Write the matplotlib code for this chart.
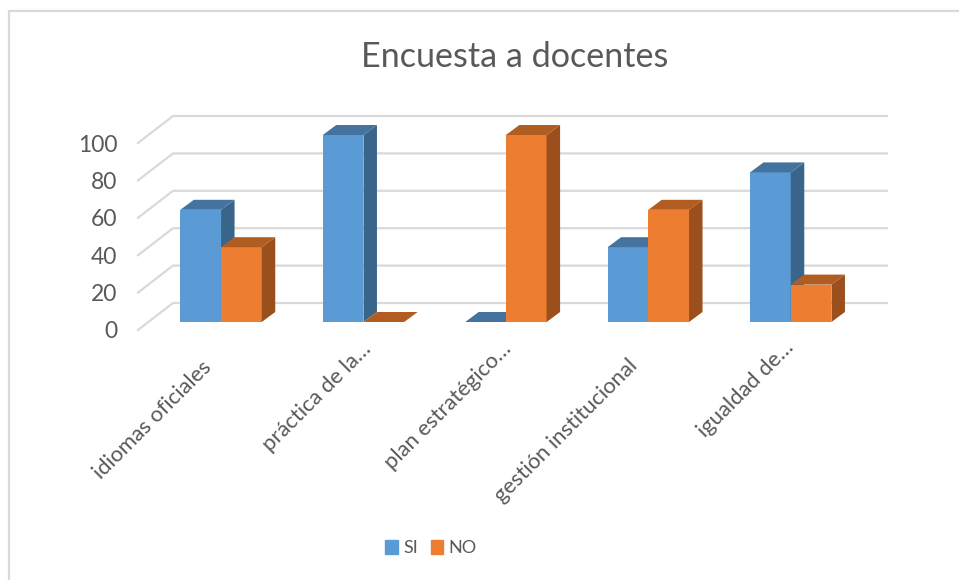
import matplotlib.pyplot as plt
from matplotlib.patches import Patch
from matplotlib.lines import Line2D
from matplotlib.transforms import ScaledTranslation

plt.rcParams['font.family'] = ['Lato', 'DejaVu Sans']

# Data
categories = ['idiomas oficiales', 'práctica de la…', 'plan estratégico…',
              'gestión institucional', 'igualdad de…']
si_values = [60, 100, 0, 40, 80]
no_values = [40, 0, 100, 60, 20]
y_ticks = [0, 20, 40, 60, 80, 100]

text_color = '#595959'
grid_color = '#D9D9D9'

W, H = 959, 580
fig = plt.figure(figsize=(W / 100, H / 100), dpi=100)

# Front plane of the 3D box, in pixels
left, right, top, bottom = 138, 852, 143, 330
ax = fig.add_axes([left / W, 1 - bottom / H, (right - left) / W, (bottom - top) / H])
ax.set_xlim(-0.583, 4.43)
ax.set_ylim(0, 100)
ax.patch.set_visible(False)
for s in ax.spines.values():
    s.set_visible(False)

# Pixel offsets converted to data units
px_x = (4.43 + 0.583) / (right - left)
px_y = 100 / (bottom - top)
wall_dx, wall_dy = 35 * px_x, 27 * px_y
bar_dx, bar_dy = 13.5 * px_x, 10 * px_y
lift = 8 * px_y
bar_w = 40.7 * px_x
x0 = ax.get_xlim()[0]
x1 = ax.get_xlim()[1]


# Back wall gridlines and the left wall diagonals
for t in y_ticks:
    ax.plot([x0, x0 + wall_dx, x1 + wall_dx], [t, t + wall_dy, t + wall_dy],
            color=grid_color, lw=1.6, clip_on=False, zorder=1)


def bar3d(x, value, front, side, roof):
    y0 = lift
    y1 = value + lift
    ax.fill([x, x + bar_w, x + bar_w, x], [y0, y0, y1, y1], color=front, lw=0, clip_on=False, zorder=2)
    ax.fill([x + bar_w, x + bar_w + bar_dx, x + bar_w + bar_dx, x + bar_w],
            [y0, y0 + bar_dy, y1 + bar_dy, y1], color=side, lw=0, clip_on=False, zorder=2)
    ax.fill([x, x + bar_dx, x + bar_w + bar_dx, x + bar_w],
            [y1, y1 + bar_dy, y1 + bar_dy, y1], color=roof, lw=0, clip_on=False, zorder=2)


for i in range(len(categories)):
    bar3d(i - bar_w, si_values[i], '#5B9BD5', '#3A658B', '#44739F')
    bar3d(i, no_values[i], '#ED7D31', '#9A4F1C', '#B15C20')

# Axis labels
ax.set_yticks(y_ticks)
ax.set_yticklabels(y_ticks, fontsize=16.5, color=text_color)
ax.set_xticks(range(len(categories)))
ax.set_xticklabels(categories, rotation=45, ha='right', rotation_mode='anchor',
                   fontsize=15.8, color=text_color)
ax.tick_params(axis='both', length=0)
ax.tick_params(axis='y', pad=15)
ax.tick_params(axis='x', pad=20)

# Excel does not line the rotated labels up on the tick, nudge them in pixels
label_nudge_x = [-20, -3, -5, -21, -7]
label_nudge_y = [-1, -19, -19, -2, -21]
for lab, dx, dy in zip(ax.get_xticklabels(), label_nudge_x, label_nudge_y):
    lab.set_transform(lab.get_transform() + ScaledTranslation(dx / 100, -dy / 100, fig.dpi_scale_trans))

fig.text(515 / W, 1 - 57 / H, 'Encuesta a docentes', ha='center', va='center',
         fontsize=24.6, color=text_color)

handles = [Patch(color='#5B9BD5', label='SI'), Patch(color='#ED7D31', label='NO')]
fig.legend(handles=handles, loc='center', bbox_to_anchor=(431 / W, 1 - 548 / H), ncol=2,
           frameon=False, fontsize=13, labelcolor=text_color, handlelength=0.7,
           handleheight=0.8, handletextpad=0.3, columnspacing=0.7, borderpad=0)

# Chart frame, only top and left edges are in the crop
fig.add_artist(Line2D([9 / W, 9 / W, 1], [0, 1 - 11 / H, 1 - 11 / H], color='#D9D9D9', lw=1.6))

fig.savefig('out.png', dpi=100)
